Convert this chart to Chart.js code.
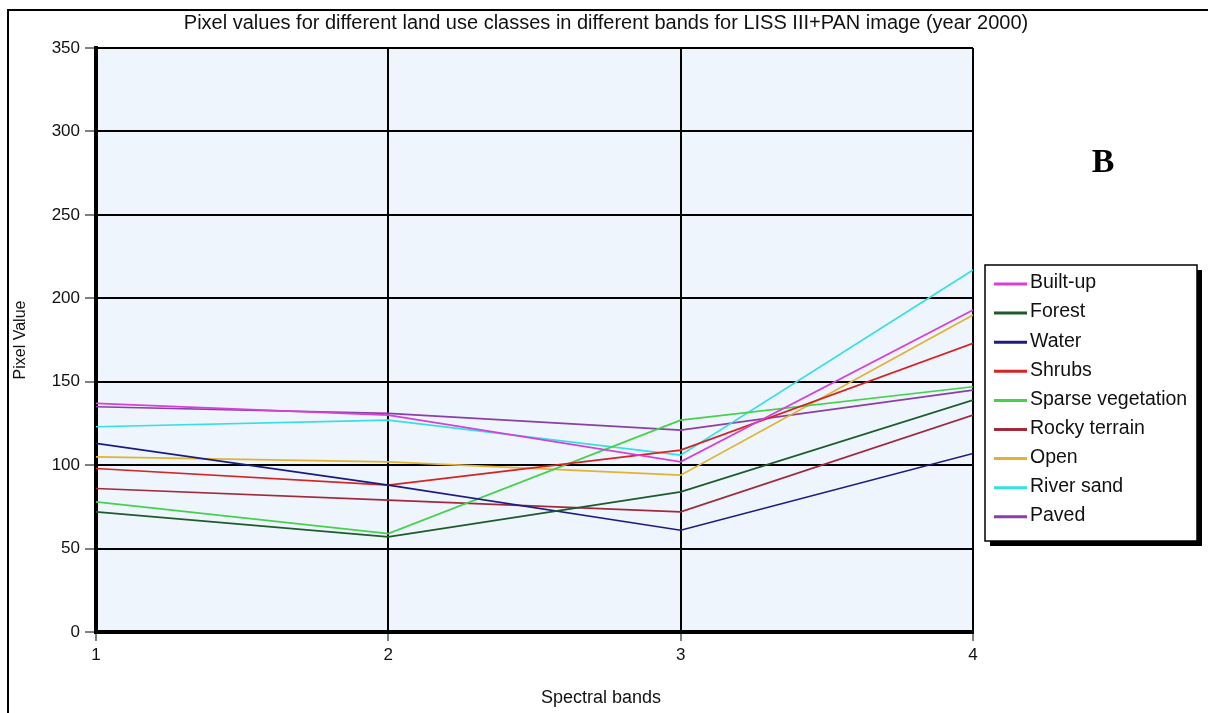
<!DOCTYPE html>
<html>
<head>
<meta charset="utf-8">
<script src="https://cdn.jsdelivr.net/npm/chart.js@4/dist/chart.umd.min.js"></script>
<style>
  html, body { margin: 0; padding: 0; background: #ffffff; overflow: hidden; }
  #wrap { width: 1208px; height: 713px; position: relative; }
</style>
</head>
<body>
<div id="wrap"><canvas id="c" width="1208" height="713"></canvas></div>
<script>
// Spectral bands on the x axis
const bands = [1, 2, 3, 4];

// Mean pixel value of each land use class per band
const builtUp          = [137, 130, 102, 193];
const forest           = [72, 57, 84, 139];
const water            = [113, 88, 61, 107];
const shrubs           = [98, 88, 109, 173];
const sparseVegetation = [78, 59, 127, 147];
const rockyTerrain     = [86, 79, 72, 130];
const openLand         = [105, 102, 94, 190];
const riverSand        = [123, 127, 106, 217];
const paved            = [135, 131, 121, 145];

const classNames  = ['Built-up', 'Forest', 'Water', 'Shrubs', 'Sparse vegetation', 'Rocky terrain', 'Open', 'River sand', 'Paved'];
const classValues = [builtUp, forest, water, shrubs, sparseVegetation, rockyTerrain, openLand, riverSand, paved];
const classColors = ['#d63fd8', '#1d5b2c', '#1c1c80', '#d42424', '#44d24a', '#a02a3c', '#e2b332', '#34e0e2', '#8a3ea6'];

const yTickValues = [0, 50, 100, 150, 200, 250, 300, 350];

const chartTitle = 'Pixel values for different land use classes in different bands for LISS III+PAN image (year 2000)';
const xAxisTitle = 'Spectral bands';
const panelLetter = 'B';

const UI_FONT = '"Liberation Sans", Arial, sans-serif';

// Light blue plot background, outer frame, titles, panel letter and boxed legend
const decorations = {
  id: 'decorations',
  beforeDraw(chart) {
    const { ctx, chartArea: a } = chart;
    ctx.save();
    ctx.fillStyle = '#eef5fd';
    ctx.fillRect(a.left, a.top, a.right - a.left, a.bottom - a.top);
    ctx.restore();
  },
  afterDraw(chart) {
    const ctx = chart.ctx;
    ctx.save();
    // outer frame
    ctx.strokeStyle = '#000';
    ctx.lineWidth = 2;
    ctx.beginPath();
    ctx.moveTo(8, 713);
    ctx.lineTo(8, 10);
    ctx.lineTo(1208, 10);
    ctx.stroke();

    // chart title
    ctx.fillStyle = '#111';
    ctx.font = '20px ' + UI_FONT;
    ctx.textAlign = 'center';
    ctx.textBaseline = 'middle';
    ctx.fillText(chartTitle, 606, 23);

    // x axis title, centred on the whole figure
    ctx.font = '18px ' + UI_FONT;
    ctx.fillText(xAxisTitle, 601, 698);

    // panel letter
    ctx.font = 'bold 34px "Liberation Serif", "Times New Roman", serif';
    ctx.fillStyle = '#000';
    ctx.fillText(panelLetter, 1103, 163);

    // legend box with drop shadow
    const lx = 985, ly = 265, lw = 212, lh = 276;
    ctx.fillStyle = '#000';
    ctx.fillRect(lx + 5, ly + 5, lw, lh);
    ctx.fillStyle = '#fff';
    ctx.fillRect(lx, ly, lw, lh);
    ctx.strokeStyle = '#000';
    ctx.lineWidth = 1.5;
    ctx.strokeRect(lx, ly, lw, lh);

    ctx.textAlign = 'left';
    ctx.font = '19.5px ' + UI_FONT;
    chart.data.datasets.forEach((ds, i) => {
      const y = 283 + i * 29.1;
      ctx.strokeStyle = ds.borderColor;
      ctx.lineWidth = 3;
      ctx.beginPath();
      ctx.moveTo(994, y + 1);
      ctx.lineTo(1027, y + 1);
      ctx.stroke();
      ctx.fillStyle = '#111';
      ctx.fillText(ds.label, 1030, y);
    });
    ctx.restore();
  }
};

new Chart(document.getElementById('c'), {
  type: 'line',
  data: {
    labels: bands,
    datasets: classNames.map((name, i) => ({
      label: name,
      data: classValues[i],
      borderColor: classColors[i],
      backgroundColor: classColors[i],
      borderWidth: 1.7,
      pointRadius: 0,
      tension: 0,
      fill: false
    }))
  },
  options: {
    responsive: false,
    animation: false,
    events: [],
    layout: { padding: { left: 0, top: 48, right: 235, bottom: 0 } },
    plugins: {
      legend: { display: false },
      title: { display: false },
      tooltip: { enabled: false }
    },
    scales: {
      x: {
        type: 'linear',
        min: 1,
        max: 4,
        afterFit(s) { s.height = 81; },
        ticks: {
          stepSize: 1,
          color: '#111',
          padding: 4,
          font: { family: UI_FONT, size: 17 }
        },
        grid: { color: '#000', lineWidth: 2, tickLength: 9, tickColor: '#000', tickWidth: 1 },
        border: { display: true, color: '#000', width: 4 }
      },
      y: {
        type: 'linear',
        min: 0,
        max: 350,
        afterFit(s) { s.width = 96; },
        afterBuildTicks(s) { s.ticks = yTickValues.map(v => ({ value: v })); },
        ticks: {
          color: '#111',
          padding: 5,
          font: { family: UI_FONT, size: 17 }
        },
        grid: { color: '#000', lineWidth: 2, tickLength: 11, tickColor: '#000', tickWidth: 1 },
        border: { display: true, color: '#000', width: 4 },
        title: {
          display: true,
          text: 'Pixel Value',
          color: '#111',
          font: { family: UI_FONT, size: 16 },
          padding: { top: 11, bottom: 0 }
        }
      }
    }
  },
  plugins: [decorations]
});
</script>
</body>
</html>
